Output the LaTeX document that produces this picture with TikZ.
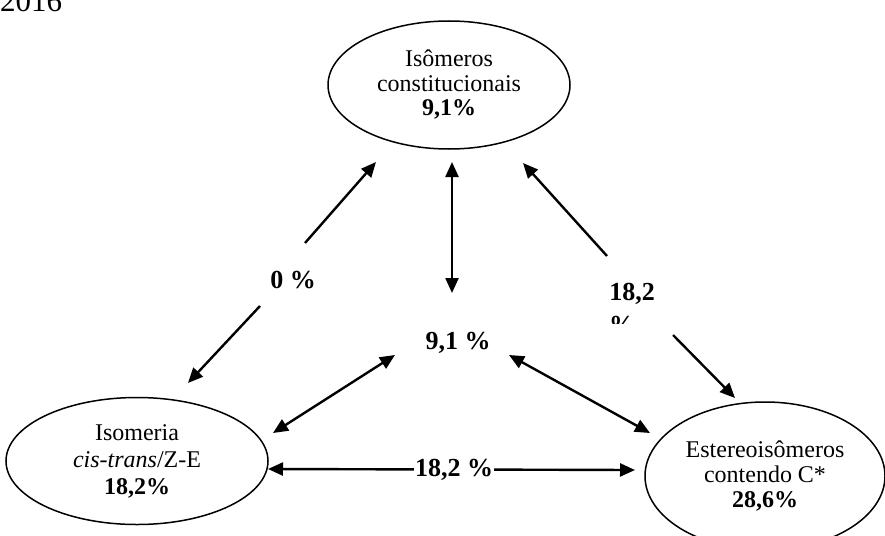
\documentclass[tikz,border=0pt]{standalone}
\usepackage{fontspec}
\setmainfont{Liberation Serif}
\usetikzlibrary{arrows.meta,shapes.geometric}
\begin{document}
\begin{tikzpicture}[x=1pt,y=-1pt,
  ell/.style={draw,ellipse,line width=1.5pt,inner sep=0pt,align=center,font=\fontsize{24}{24.5}\selectfont},
  lab/.style={font=\fontsize{26}{28}\selectfont\bfseries,inner sep=1pt},
  tip/.tip={Triangle[length=15pt,width=13pt]},
  arr/.style={line width=2.4pt,-tip},
  darr/.style={line width=2.4pt,tip-tip}]
\clip (0,0) rectangle (885,535);
\useasboundingbox (0,0) rectangle (885,535);
\fill[white] (0,0) rectangle (885,535);
% year fragment
\node[font=\fontsize{31}{33}\selectfont,anchor=base west,inner sep=0pt] (yr) at (0,12) {2016};
% ellipses
\node[ell,minimum width=242pt,minimum height=128pt] (T) at (449,85)
  {Isômeros\\constitucionais\\\textbf{9,1\%}};
\node[ell,minimum width=262pt,minimum height=127pt,font=\fontsize{24}{27}\selectfont] (L) at (137,461)
  {Isomeria\\\textit{cis-trans}/Z-E\\\textbf{18,2\%}};
\node[ell,minimum width=240pt,minimum height=148pt,font=\fontsize{24}{25}\selectfont] (R) at (765,476)
  {Estereoisômeros\\contendo C*\\\textbf{28,6\%}};
% labels
\node[lab] (z) at (293,280) {0 \%};
\node[lab] (n) at (458,343) {9,1 \%};
\node[lab] (e) at (632,294) {18,2};
\begin{scope}
\clip (600,310) rectangle (645,323.5);
\node[lab,anchor=north west,inner sep=0pt] (p) at (609,316) {\%};
\end{scope}
% coordinates
\coordinate (a1s) at (305,243); \coordinate (a1e) at (376,162);
\coordinate (a2s) at (260,306); \coordinate (a2e) at (188,383);
\coordinate (v1) at (452,162);  \coordinate (v2) at (452,293);
\coordinate (a4s) at (607,256); \coordinate (a4e) at (523,163);
\coordinate (a5s) at (673,335); \coordinate (a5e) at (735,398);
\coordinate (d6a) at (273,433); \coordinate (d6b) at (395,355);
\coordinate (d7a) at (509,355); \coordinate (d7b) at (650,433);
\coordinate (h1) at (268,469);  \coordinate (h2) at (635,470);
% connectors
\draw[arr] (a1s) -- (a1e);
\draw[arr] (a2s) -- (a2e);
\draw[darr] (v1) -- (v2);
\draw[arr] (a4s) -- (a4e);
\draw[arr] (a5s) -- (a5e);
\draw[darr] (d6a) -- (d6b);
\draw[darr] (d7a) -- (d7b);
\draw[darr] (h1) -- (h2);
\node[lab,fill=white] (h) at (454,470) {18,2 \%};
\end{tikzpicture}
\end{document}
